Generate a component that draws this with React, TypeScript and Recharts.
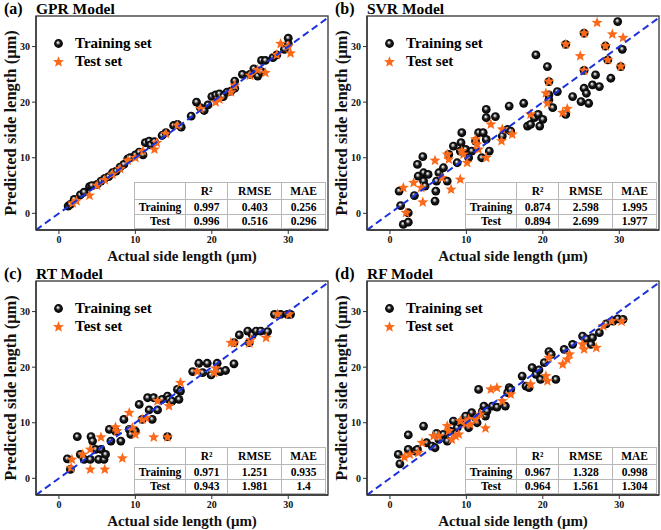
import React from "react";
import { Scatter, ScatterChart, XAxis, YAxis } from "recharts";

type Pair = [number, number];

const FONT = '"Liberation Serif", "Times New Roman", Times, serif';
const AXIS = "#333333";
const STAR = "#fa6a1a";
const LINE = "#1c32dc";

const axisTicks = [0, 10, 20, 30];
const xDomain: [number, number] = [-3, 35.2];
const yDomain: [number, number] = [-3, 35.5];
const parityEnds = [-3, 35];
const metricNames = ["R²", "RMSE", "MAE"];
const setNames = ["Training", "Test"];

// (a) GPR
const gprTrain: Pair[] = [
  [1.2, 1.3], [1.5, 1.6], [2, 2.5], [2.8, 3.3], [3.3, 3.8], [4, 4.8], [4.3, 5], [5, 5.2], [5.5, 5.8], [6, 6.3],
  [6.5, 6.6], [7, 7.3], [7.5, 7.6], [8, 8.3], [8.5, 8.8], [9, 9.8], [9.3, 10], [10, 10.5], [10.5, 11], [11, 10.5],
  [11.3, 12.7], [11.8, 13], [12, 12.3], [12.5, 12.9], [13.5, 14], [14, 14.5], [15, 15.8], [15.5, 16], [16, 15.5],
  [17.3, 17.5], [18, 20], [18.5, 19], [19, 18.5], [19.5, 19.5], [20, 21], [20.5, 21.3], [21, 21.5], [21.5, 21],
  [22, 21.8], [22.5, 22], [23, 23.8], [23, 22.5], [24, 25], [25, 25], [25.5, 26], [26, 24.7], [26.5, 25.5],
  [26.5, 27.5], [27, 27.5], [28, 28], [28.5, 28.5], [29.5, 29.5], [30, 31.5], [30, 30.5]
];
const gprTest: Pair[] = [
  [1.8, 1.8], [2.3, 2.2], [4, 3.2], [5, 5], [6, 6], [7, 7], [8, 8], [9, 9.5], [10, 10], [11, 11.2], [12.5, 11.5],
  [12.8, 12.7], [14, 14.3], [15.5, 15.8], [18.5, 18.8], [20.5, 20], [21, 20.5], [22.5, 21.8], [23, 23], [25, 24.8],
  [26, 25.8], [27, 25.3], [28.5, 28.5], [29, 30.5], [30, 30], [30.3, 28.8]
];
const gprScores = [["0.997", "0.403", "0.256"], ["0.996", "0.516", "0.296"]];

// (b) SVR
const svrTrain: Pair[] = [
  [1.2, 4.0], [1.4, 1.4], [1.75, -2.0], [2.4, -1.6], [2.4, 0.1], [3.2, 3.2], [3.6, 8.8], [4.3, 10.2], [3.7, 6.7],
  [4.4, 7.3], [4.4, 5.8], [4.6, 4.9], [5.0, 7.0], [5.9, 2.2], [6.0, 4.0], [6.1, 5.8], [6.4, 7.3], [7.0, 8.2],
  [7.5, 5.8], [7.7, 10.6], [8.3, 12.1], [8.8, 9.1], [9.2, 11.2], [9.3, 12.7], [9.4, 14.5], [9.9, 11.5], [10.3, 10.0],
  [10.7, 11.2], [11.2, 13.0], [11.6, 14.5], [12.0, 10.0], [12.2, 14.5], [12.6, 18.7], [12.6, 17.2], [12.6, 13.3],
  [13.0, 11.2], [13.8, 17.4], [14.7, 13.9], [15.6, 19.3], [15.4, 15.1], [15.8, 14.8], [17.5, 19.8], [18.0, 15.7],
  [18.4, 16.0], [18.9, 17.2], [19.1, 28.5], [19.4, 17.8], [19.6, 15.7], [20.0, 16.9], [20.6, 26.4], [20.8, 21.3],
  [20.8, 20.4], [21.3, 19.0], [21.9, 21.9], [23.0, 17.8], [23.9, 21.0], [25.0, 20.1], [25.4, 22.5], [25.7, 21.6],
  [26.0, 19.8], [26.5, 23.1], [26.9, 24.9], [27.4, 22.8], [28.9, 24.3], [29.8, 34.5], [30.4, 29.5],
  [23.0, 30.4], [25.4, 32.4], [28.2, 30.1], [28.5, 27.6], [25.4, 25.7], [30.2, 26.4], [20.8, 23.7]
];
const svrTest: Pair[] = [
  [1.75, 4.6], [2.1, 0.1], [3.1, 5.5], [4.1, 4.6], [4.3, 2.0], [5.9, 9.5], [6.8, 6.4], [7.5, 10.6], [7.7, 9.7],
  [8.0, 4.3], [9.2, 6.1], [9.4, 11.2], [9.6, 10.6], [10.1, 9.1], [11.2, 13.3], [11.4, 12.4], [11.6, 11.5],
  [12.6, 10.0], [13.2, 16.0], [14.6, 13.0], [14.7, 15.1], [16.0, 14.2], [18.4, 17.8], [20.4, 21.6], [20.8, 23.7],
  [20.6, 19.8], [22.6, 18.1], [23.2, 18.8], [23.0, 30.4], [24.9, 28.3], [25.4, 32.4], [25.4, 25.7], [27.1, 34.3],
  [28.2, 30.1], [28.5, 27.6], [29.1, 32.2], [30.5, 31.6], [30.2, 26.4]
];
const svrScores = [["0.874", "2.598", "1.995"], ["0.894", "2.699", "1.977"]];

// (c) RT
const rtTrain: Pair[] = [
  [1.1, 3.5], [1.5, 1.6], [2.4, 7.5], [2.8, 4.3], [3.3, 3.4], [4.1, 3.4], [4.2, 7.5], [4.4, 6.7], [4.8, 5.2],
  [5.2, 3.4], [5.5, 5.2], [5.9, 3.4], [6.1, 4.3], [6.6, 8.8], [6.8, 6.7], [7.4, 8.5], [8.1, 6.7], [8.5, 10.6],
  [9.2, 8.8], [9.4, 7.9], [10.0, 8.5], [10.5, 13.3], [10.9, 10.6], [11.6, 14.5], [11.8, 12.3], [12.2, 10.6],
  [12.4, 14.5], [12.9, 12.3], [13.5, 14.2], [14.2, 14.8], [14.4, 14.2], [14.8, 13.9], [15.5, 16.0], [15.9, 15.7],
  [15.7, 14.2], [14.2, 7.5], [17.5, 19.2], [18.3, 20.7], [18.8, 19.0], [19.4, 20.7], [19.9, 18.6], [20.7, 20.7],
  [21.1, 19.2], [21.8, 19.4], [22.9, 20.6], [23.6, 25.8], [24.7, 26.5], [25.3, 25.8], [25.8, 26.5], [26.4, 26.5],
  [27.3, 26.4], [28.2, 29.5], [29.0, 29.5], [29.9, 29.5], [30.3, 29.5], [22.9, 24.4], [24.9, 24.4]
];
const rtTest: Pair[] = [
  [1.6, 1.9], [1.7, 3.4], [3.1, 4.3], [4.1, 1.6], [4.1, 5.2], [5.5, 7.4], [6.0, 1.6], [7.4, 9.2], [7.6, 8.5],
  [8.3, 3.6], [9.2, 11.8], [9.6, 9.1], [10.0, 7.9], [10.9, 10.6], [11.4, 10.9], [12.4, 7.4], [12.9, 13.9],
  [14.2, 7.4], [14.4, 13.0], [15.9, 17.2], [18.1, 19.2], [20.3, 19.0], [20.5, 19.8], [22.5, 24.4], [22.9, 24.3],
  [24.9, 24.3], [25.1, 24.9], [27.1, 25.3], [28.6, 29.5], [30.1, 29.5]
];
const rtScores = [["0.971", "1.251", "0.935"], ["0.943", "1.981", "1.4"]];

// (d) RF
const rfTrain: Pair[] = [
  [1.1, 4.3], [1.3, 2.6], [2.4, 7.8], [2.4, 5.2], [3.3, 4.9], [3.6, 5.2], [4.4, 9.4], [4.8, 6.4], [5.5, 5.8],
  [5.9, 5.5], [6.1, 8.1], [6.4, 7.0], [7.0, 7.9], [7.5, 6.7], [7.9, 8.5], [8.3, 10.3], [8.8, 9.1], [9.2, 10.0],
  [9.9, 11.2], [10.3, 9.1], [10.7, 11.8], [11.2, 10.9], [11.4, 10.0], [11.6, 16.0], [12.1, 12.1], [12.3, 13.0],
  [12.5, 11.2], [12.7, 12.1], [13.4, 13.0], [14.0, 12.8], [15.1, 13.0], [15.6, 16.3], [15.4, 15.4], [15.8, 16.0],
  [17.3, 18.4], [17.8, 16.6], [18.2, 16.3], [18.6, 19.9], [19.1, 18.7], [19.5, 19.5], [19.7, 17.8], [20.2, 20.8],
  [20.8, 22.8], [21.1, 22.3], [21.7, 17.8], [22.8, 23.2], [23.9, 24.1], [25.2, 25.6], [25.7, 25.1], [26.5, 25.3],
  [26.3, 24.1], [27.4, 26.2], [28.3, 27.8], [29.2, 28.3], [29.8, 28.7], [30.5, 28.6]
];
const rfTest: Pair[] = [
  [1.9, 3.8], [2.6, 4.3], [3.7, 4.6], [4.2, 6.4], [5.7, 7.6], [6.4, 7.6], [7.5, 9.4], [7.7, 8.5], [8.1, 7.0],
  [8.6, 7.6], [9.0, 7.9], [9.2, 10.3], [9.9, 9.8], [10.3, 10.6], [10.5, 9.7], [11.2, 10.6], [11.8, 11.5],
  [12.5, 9.0], [13.2, 16.0], [14.0, 16.3], [14.7, 13.9], [15.8, 15.1], [18.4, 16.9], [20.4, 18.4], [20.6, 17.5],
  [20.8, 21.7], [22.6, 20.5], [23.2, 21.4], [23.5, 22.3], [25.2, 24.1], [25.4, 23.2], [27.0, 23.5], [27.9, 27.4],
  [29.0, 28.3], [30.3, 28.2]
];
const rfScores = [["0.967", "1.328", "0.998"], ["0.964", "1.561", "1.304"]];

const toPoints = (pairs: Pair[]) => pairs.map(([x, y]) => ({ x, y }));
const parity = parityEnds.map((v) => ({ x: v, y: v }));

function starPoints(cx: number, cy: number, outer: number, inner: number) {
  const pts: string[] = [];
  for (let i = 0; i < 10; i++) {
    const r = i % 2 === 0 ? outer : inner;
    const a = -Math.PI / 2 + (i * Math.PI) / 5;
    pts.push(`${cx + r * Math.cos(a)},${cy + r * Math.sin(a)}`);
  }
  return pts.join(" ");
}

function Ball(props: any) {
  const { cx, cy } = props;
  if (cx == null || cy == null) return <g />;
  return <circle cx={cx} cy={cy} r={4.4} fill="url(#ballShade)" />;
}

function Star(props: any) {
  const { cx, cy } = props;
  if (cx == null || cy == null) return <g />;
  return <polygon points={starPoints(cx, cy, 5.8, 2.5)} fill={STAR} />;
}

const noShape = () => <g />;
const tickStyle = { fill: "#111", fontSize: 10, fontWeight: 700, fontFamily: FONT };
const axisLineStyle = { stroke: AXIS, strokeWidth: 1.3 };
const cell: React.CSSProperties = { border: "1px solid #b8b8b8", textAlign: "center", padding: 0 };

function Panel({ tag, name, train, test, scores }: { tag: string; name: string; train: Pair[]; test: Pair[]; scores: string[][] }) {
  return (
    <div style={{ position: "relative", width: 330, height: 265, fontFamily: FONT }}>
      <div style={{ position: "absolute", left: 4, top: 0, fontSize: 16, fontWeight: 700, lineHeight: "17px", zIndex: 2 }}>{tag}</div>
      <div style={{ position: "absolute", left: 36, top: 0, fontSize: 15.5, fontWeight: 700, lineHeight: "17px", zIndex: 2 }}>{name}</div>
      <ScatterChart width={330} height={265} margin={{ top: 16, right: 2, bottom: 0, left: 0 }}>
        <XAxis
          type="number"
          dataKey="x"
          domain={xDomain}
          ticks={axisTicks}
          allowDataOverflow
          height={35}
          axisLine={axisLineStyle}
          tickLine={{ stroke: AXIS }}
          tickSize={4}
          tick={tickStyle}
          label={{ value: "Actual side length (μm)", position: "insideBottom", offset: 4, fill: "#111", fontSize: 15, fontWeight: 700, fontFamily: FONT }}
        />
        <YAxis
          type="number"
          dataKey="y"
          domain={yDomain}
          ticks={axisTicks}
          allowDataOverflow
          width={36}
          axisLine={axisLineStyle}
          tickLine={{ stroke: AXIS }}
          tickSize={4}
          tick={tickStyle}
          label={{ value: "Predicted side length (μm)", angle: -90, position: "insideLeft", offset: 10, style: { textAnchor: "middle" }, fill: "#111", fontSize: 16.5, fontWeight: 700, fontFamily: FONT }}
        />
        <Scatter data={toPoints(train)} shape={Ball} isAnimationActive={false} />
        <Scatter data={toPoints(test)} shape={Star} isAnimationActive={false} />
        <Scatter data={parity} shape={noShape} line={{ stroke: LINE, strokeWidth: 2, strokeDasharray: "7 4" }} isAnimationActive={false} />
      </ScatterChart>
      <svg width={330} height={265} style={{ position: "absolute", left: 0, top: 0, pointerEvents: "none", zIndex: 1 }}>
        <rect x={36} y={16} width={292} height={214} fill="none" stroke={AXIS} strokeWidth={1.3} />
      </svg>
      <div style={{ position: "absolute", left: 52, top: 34, fontSize: 15, fontWeight: 700, lineHeight: "16px", zIndex: 2 }}>
        <div style={{ display: "flex", alignItems: "center", height: 18 }}>
          <svg width={13} height={13} style={{ marginRight: 10 }}>
            <circle cx={6.5} cy={6.5} r={4.4} fill="url(#ballShade)" />
          </svg>
          Training set
        </div>
        <div style={{ display: "flex", alignItems: "center", height: 18 }}>
          <svg width={13} height={13} style={{ marginRight: 10 }}>
            <polygon points={starPoints(6.5, 7, 5.8, 2.5)} fill={STAR} />
          </svg>
          Test set
        </div>
      </div>
      <table style={{ position: "absolute", left: 134, top: 182, width: 192, height: 47, borderCollapse: "collapse", background: "#fff", fontSize: 11.5, fontWeight: 700, zIndex: 2, border: "1px solid #8a8a8a" }}>
        <tbody>
          <tr style={{ height: 17 }}>
            <td style={{ ...cell, width: 50 }} />
            {metricNames.map((m) => (
              <td key={m} style={cell}>{m}</td>
            ))}
          </tr>
          {setNames.map((s, i) => (
            <tr key={s}>
              <td style={cell}>{s}</td>
              {scores[i].map((v, j) => (
                <td key={j} style={cell}>{v}</td>
              ))}
            </tr>
          ))}
        </tbody>
      </table>
    </div>
  );
}

export default function App() {
  return (
    <div style={{ position: "absolute", left: 0, top: 0, width: 661, height: 530, background: "#fff" }}>
      <svg width={0} height={0} style={{ position: "absolute" }}>
        <defs>
          <radialGradient id="ballShade" cx="50%" cy="50%" r="50%" fx="42%" fy="36%">
            <stop offset="0%" stopColor="#ffffff" />
            <stop offset="22%" stopColor="#b0b0b0" />
            <stop offset="50%" stopColor="#1c1c1c" />
            <stop offset="100%" stopColor="#000000" />
          </radialGradient>
        </defs>
      </svg>
      <div style={{ position: "absolute", left: 0, top: 0 }}>
        <Panel tag="(a)" name="GPR Model" train={gprTrain} test={gprTest} scores={gprScores} />
      </div>
      <div style={{ position: "absolute", left: 331, top: 0 }}>
        <Panel tag="(b)" name="SVR Model" train={svrTrain} test={svrTest} scores={svrScores} />
      </div>
      <div style={{ position: "absolute", left: 0, top: 265 }}>
        <Panel tag="(c)" name="RT Model" train={rtTrain} test={rtTest} scores={rtScores} />
      </div>
      <div style={{ position: "absolute", left: 331, top: 265 }}>
        <Panel tag="(d)" name="RF Model" train={rfTrain} test={rfTest} scores={rfScores} />
      </div>
    </div>
  );
}
